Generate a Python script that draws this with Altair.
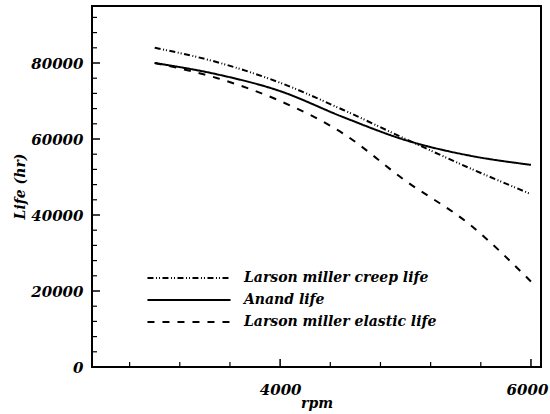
import altair as alt
import pandas as pd

# ---- data ----
rpm = [3000, 3500, 4000, 4500, 5000, 5500, 6000]
creep_life = [84000, 80200, 74800, 67700, 60000, 52500, 45500]
anand_life = [80000, 77000, 72600, 65800, 59700, 55700, 53200]
elastic_life = [80000, 76000, 70000, 61500, 49000, 37800, 22500]

series_names = ["Larson miller creep life", "Anand life", "Larson miller elastic life"]
dash_patterns = [[6, 2.5, 1, 2, 1, 2.5], [1, 0], [7, 8]]

x_major = [4000, 6000]
x_minor = [2800, 3200, 3600, 4400, 4800, 5200, 5600]
y_major = [0, 20000, 40000, 60000, 80000]
y_minor = [4000, 8000, 12000, 16000, 24000, 28000, 32000, 36000, 44000, 48000,
           52000, 56000, 64000, 68000, 72000, 76000, 84000, 88000, 92000]

rows = []
for name, vals in zip(series_names, [creep_life, anand_life, elastic_life]):
    for r, v in zip(rpm, vals):
        rows.append({"rpm": r, "life": v, "series": name})
df = pd.DataFrame(rows)

FONT = "DejaVu Serif"

x_scale = alt.Scale(domain=[2500, 6080], nice=False, zero=False)
y_scale = alt.Scale(domain=[0, 95000], nice=False, zero=False)

x_axis = alt.Axis(values=x_major, format="d", title="rpm", ticks=False, domain=False,
                  grid=False, labelPadding=15, titleY=40, titleBaseline="alphabetic",
                  labelOffset={"condition": {"test": "datum.value == 6000", "value": -4},
                               "value": 0})
y_axis = alt.Axis(values=y_major, format="d", title="Life (hr)", ticks=False, domain=False,
                  grid=False, labelPadding=9, titleX=-72, titleY=180, titleAngle=-90,
                  titleAlign="center", titleBaseline="middle")

x_enc = alt.X("rpm:Q", scale=x_scale, axis=x_axis)
y_enc = alt.Y("life:Q", scale=y_scale, axis=y_axis)

lines = alt.Chart(df).mark_line(color="black", strokeWidth=2, interpolate="monotone").encode(
    x=x_enc,
    y=y_enc,
    strokeDash=alt.StrokeDash(
        "series:N",
        scale=alt.Scale(domain=series_names, range=dash_patterns),
        legend=alt.Legend(
            title=None, orient="none", legendX=90, legendY=265,
            symbolType="M-10,0H10", symbolSize=69, symbolStrokeWidth=2,
            symbolStrokeColor="black", labelOffset=48, rowPadding=8,
            labelFont=FONT, labelFontSize=14, labelFontStyle="italic",
            labelFontWeight="bold", labelColor="black", labelLimit=400,
        ),
    ),
)

xmaj = alt.Chart(pd.DataFrame({"rpm": x_major})).mark_rule(color="black", strokeWidth=1.5).encode(
    x=x_enc, y=alt.value(361), y2=alt.value(353))
xmin = alt.Chart(pd.DataFrame({"rpm": x_minor})).mark_rule(color="black", strokeWidth=1.2).encode(
    x=x_enc, y=alt.value(361), y2=alt.value(356))
ymaj = alt.Chart(pd.DataFrame({"life": y_major})).mark_rule(color="black", strokeWidth=1.5).encode(
    y=y_enc, x=alt.value(0), x2=alt.value(8))
ymin = alt.Chart(pd.DataFrame({"life": y_minor})).mark_rule(color="black", strokeWidth=1.2).encode(
    y=y_enc, x=alt.value(0), x2=alt.value(5))

chart = alt.layer(lines, xmaj, xmin, ymaj, ymin).properties(
    width=449, height=361,
    autosize=alt.AutoSizeParams(type="none"),
    padding={"left": 92, "top": 6, "right": 9, "bottom": 47},
    background="white",
).configure_view(stroke="black", strokeWidth=2).configure_axis(
    labelFont=FONT, labelFontSize=15, labelFontStyle="italic", labelFontWeight="bold",
    labelColor="black", titleFont=FONT, titleFontSize=14, titleFontStyle="italic",
    titleFontWeight="bold", titleColor="black",
)

chart.save("out.html", embed_options={"renderer": "svg", "actions": False})
